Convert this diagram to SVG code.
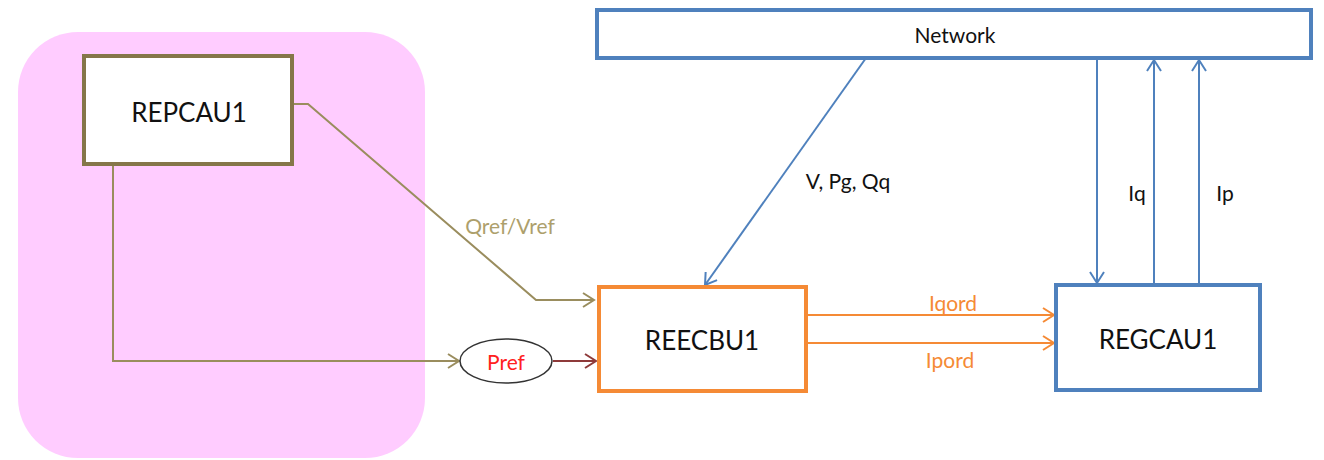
<svg xmlns="http://www.w3.org/2000/svg" width="1324" height="460" viewBox="0 0 1324 460">
<style>
text{font-family:Lato,"Liberation Sans",sans-serif;text-anchor:middle;dominant-baseline:central}
.box{fill:#fff}
.lbl{font-size:21px}
.big{font-size:26px;fill:#111}
.ol{stroke:#9a8d5e;stroke-width:2;fill:none}
.bl{stroke:#4f81bd;stroke-width:2;fill:none}
.or{stroke:#f58a35;stroke-width:2;fill:none}
</style>
<defs>
<marker id="aOl" markerUnits="userSpaceOnUse" markerWidth="16" markerHeight="18" refX="13" refY="8" orient="auto"><path d="M2,1 L13,8 L2,15" fill="none" stroke="#9a8d5e" stroke-width="2"/></marker>
<marker id="aRd" markerUnits="userSpaceOnUse" markerWidth="16" markerHeight="18" refX="13" refY="8" orient="auto"><path d="M2,1 L13,8 L2,15" fill="none" stroke="#8e3a3a" stroke-width="2"/></marker>
<marker id="aBl" markerUnits="userSpaceOnUse" markerWidth="16" markerHeight="18" refX="13" refY="8" orient="auto"><path d="M2,1 L13,8 L2,15" fill="none" stroke="#4f81bd" stroke-width="2"/></marker>
<marker id="aOr" markerUnits="userSpaceOnUse" markerWidth="16" markerHeight="18" refX="13" refY="8" orient="auto"><path d="M2,1 L13,8 L2,15" fill="none" stroke="#f58a35" stroke-width="2"/></marker>
</defs>
<rect x="18" y="32" width="407" height="426" rx="60" fill="#ffccff"/>
<g id="connectors">
<path class="ol" d="M290,104 L308,104 L536,300 L594,300" marker-end="url(#aOl)"/>
<path class="ol" d="M113,165 L113,361 L459,361" marker-end="url(#aOl)"/>
<path d="M553,361 L596,361" stroke="#8e3a3a" stroke-width="2" fill="none" marker-end="url(#aRd)"/>
<path class="bl" d="M866,58 L705,285" marker-end="url(#aBl)"/>
<path class="bl" d="M1097,58 L1097,283" marker-end="url(#aBl)"/>
<path class="bl" d="M1154,285 L1154,60" marker-end="url(#aBl)"/>
<path class="bl" d="M1199,285 L1199,60" marker-end="url(#aBl)"/>
<path class="or" d="M807,315 L1054,315" marker-end="url(#aOr)"/>
<path class="or" d="M807,343 L1054,343" marker-end="url(#aOr)"/>
<text class="lbl" x="510" y="225" fill="#ad9f6c">Qref/Vref</text>
<text class="lbl" x="848" y="180" fill="#111">V, Pg, Qq</text>
<text class="lbl" x="1137" y="192" fill="#111">Iq</text>
<text class="lbl" x="1225" y="192" fill="#111">Ip</text>
<text class="lbl" x="953" y="302" fill="#f58a35">Iqord</text>
<text class="lbl" x="950" y="359" fill="#f58a35">Ipord</text>
</g>
<g id="REPCAU1">
<rect class="box" x="84" y="56" width="208" height="108" stroke="#857649" stroke-width="4"/>
<text class="big" x="189" y="112">REPCAU1</text>
</g>
<g id="Pref">
<ellipse cx="506" cy="361" rx="46" ry="22" fill="#fff" stroke="#333" stroke-width="1.5"/>
<text class="lbl" x="506" y="361" fill="#ff2020">Pref</text>
</g>
<g id="REECBU1">
<rect class="box" x="599" y="287" width="207" height="104" stroke="#f58a35" stroke-width="4"/>
<text class="big" x="702" y="340">REECBU1</text>
</g>
<g id="Network">
<rect class="box" x="597" y="10" width="714" height="48" stroke="#4f81bd" stroke-width="4"/>
<text class="lbl" x="955" y="34" fill="#111">Network</text>
</g>
<g id="REGCAU1">
<rect class="box" x="1056" y="285" width="204" height="105" stroke="#4f81bd" stroke-width="4"/>
<text class="big" x="1158" y="339">REGCAU1</text>
</g>
</svg>
